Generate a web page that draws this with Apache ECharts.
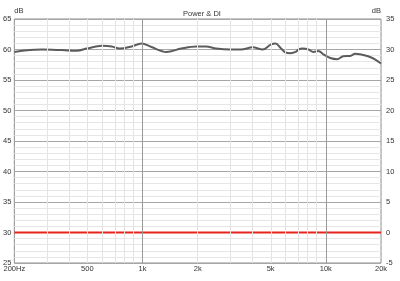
<!DOCTYPE html>
<html>
<head>
<meta charset="utf-8">
<script src="https://cdn.jsdelivr.net/npm/echarts@6/dist/echarts.min.js"></script>
<style>
html, body { margin: 0; padding: 0; background: #fff; }
#main { width: 400px; height: 281px; }
</style>
</head>
<body>
<div id="main"></div>
<script>
// power response (Hz, dB on the left axis)
var freqs = [200, 221, 284, 364, 439, 497, 600, 680, 751, 872, 988, 1120, 1350, 1628, 1963, 2222, 2520, 3040, 3443, 3990, 4530, 5000, 5320, 5670, 6040, 6430, 6840, 7100, 7460, 8040, 8550, 9120, 9700, 10580, 11540, 12440, 13580, 14460, 15780, 17000, 18540, 20000];
var power = [59.6, 59.8, 60.0, 59.9, 59.8, 60.15, 60.6, 60.5, 60.15, 60.5, 61.0, 60.4, 59.6, 60.15, 60.5, 60.5, 60.15, 60.0, 60.0, 60.35, 60.0, 60.8, 61.0, 60.25, 59.5, 59.4, 59.6, 60.0, 60.15, 60.0, 59.6, 59.75, 59.2, 58.6, 58.4, 58.9, 58.95, 59.3, 59.15, 58.9, 58.4, 57.7];
// directivity index (right axis)
var diFreqs = [200, 20000];
var di = [0, 0];

var tickFreqs = [200, 500, 1000, 2000, 5000, 10000, 20000];
var tickLabels = ['200Hz', '500', '1k', '2k', '5k', '10k', '20k'];
var minorFreqs = [300, 400, 500, 600, 700, 800, 900, 2000, 3000, 4000, 5000, 6000, 7000, 8000, 9000];
var majorFreqs = [1000, 10000];

function lg(f) { return Math.log10(f); }

var font = 'Liberation Sans';
var fs = 7.5;
var myChart = echarts.init(document.getElementById('main'));

var vLines = [];
minorFreqs.forEach(function (f) {
	vLines.push({ xAxis: lg(f), lineStyle: { color: '#e4e4e4', width: 1, type: 'solid' } });
});
majorFreqs.forEach(function (f) {
	vLines.push({ xAxis: lg(f), lineStyle: { color: '#9a9a9a', width: 1, type: 'solid' } });
});

var option = {
	animation: false,
	title: {
		text: 'Power & DI',
		left: 178,
		top: 5,
		textStyle: { fontFamily: font, fontSize: fs, fontWeight: 'normal', color: '#333' }
	},
	grid: {
		left: 12, right: 19, top: 19, bottom: 18,
		show: true, borderColor: '#8c8c8c', borderWidth: 1
	},
	xAxis: {
		type: 'value',
		min: lg(200),
		max: lg(20000),
		axisLine: { show: false },
		axisTick: { show: false },
		splitLine: { show: false },
		axisLabel: {
			customValues: tickFreqs.map(lg),
			margin: 2,
			fontFamily: font, fontSize: fs, color: '#333',
			formatter: function (v) {
				var best = 0;
				for (var i = 0; i < tickFreqs.length; i++) {
					if (Math.abs(lg(tickFreqs[i]) - v) < Math.abs(lg(tickFreqs[best]) - v)) best = i;
				}
				return tickLabels[best];
			}
		}
	},
	yAxis: [{
		type: 'value',
		min: 25, max: 65, interval: 5,
		name: 'dB',
		nameLocation: 'end',
		nameGap: 2,
		nameTextStyle: { fontFamily: font, fontSize: fs, color: '#333', align: 'left' },
		axisLine: { show: false },
		axisTick: { show: false },
		axisLabel: { margin: 3, fontFamily: font, fontSize: fs, color: '#333' },
		splitLine: { lineStyle: { color: '#a6a6a6', width: 1 } },
		minorTick: { show: false, splitNumber: 5 },
		minorSplitLine: { show: true, lineStyle: { color: '#e6e6e6', width: 1 } }
	}, {
		type: 'value',
		position: 'right',
		min: -5, max: 35, interval: 5,
		name: 'dB',
		nameLocation: 'end',
		nameGap: 2,
		nameTextStyle: { fontFamily: font, fontSize: fs, color: '#333', align: 'right' },
		axisLine: { show: false },
		axisTick: { show: false },
		axisLabel: { margin: 5, fontFamily: font, fontSize: fs, color: '#333' },
		splitLine: { show: false }
	}],
	series: [{
		name: 'grid',
		type: 'line',
		data: [],
		z: 1,
		silent: true,
		markLine: {
			silent: true,
			symbol: 'none',
			label: { show: false },
			data: vLines
		}
	}, {
		name: 'Power',
		type: 'line',
		z: 4,
		smooth: 0.35,
		symbol: 'none',
		lineStyle: { color: '#5c5c5c', width: 2 },
		data: freqs.map(function (f, i) { return [lg(f), power[i]]; })
	}, {
		name: 'DI',
		type: 'line',
		yAxisIndex: 1,
		z: 3,
		symbol: 'none',
		lineStyle: { color: '#e8241c', width: 2 },
		data: diFreqs.map(function (f, i) { return [lg(f), di[i]]; })
	}]
};

myChart.setOption(option);
</script>
</body>
</html>
